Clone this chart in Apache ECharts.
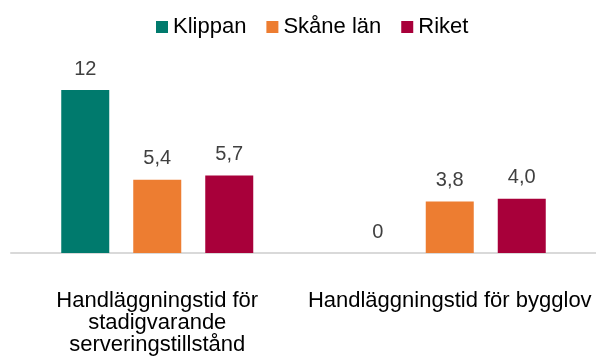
<!DOCTYPE html>
<html>
<head>
<meta charset="utf-8">
<script src="https://cdn.jsdelivr.net/npm/echarts@6/dist/echarts.min.js"></script>
<style>
  html, body { margin: 0; padding: 0; background: #ffffff; }
  #chart { width: 596px; height: 356px; }
</style>
</head>
<body>
<div id="chart"></div>
<script>
// Handläggningstid – Klippan jämfört med Skåne län och riket
const categories = [
  'Handläggningstid för\nstadigvarande\nserveringstillstånd',
  'Handläggningstid för bygglov'
];
const seriesNames = ['Klippan', 'Skåne län', 'Riket'];
const klippan = [12, 0];
const skane = [5.4, 3.8];
const riket = [5.7, 4.0];
const colors = ['#007A6D', '#ED7D31', '#A8003A'];

const fontFamily = '"Liberation Sans", Arial, sans-serif';

// Svensk decimalform: komma i stället för punkt, en decimal utom för Klippans heltal
function formatValue(v, name) {
  if (name === 'Klippan') return String(v);
  return v.toFixed(1).replace('.', ',');
}

const chart = echarts.init(document.getElementById('chart'), null, { renderer: 'canvas' });

const valueSets = [klippan, skane, riket];

chart.setOption({
  animation: false,
  color: colors,
  textStyle: { fontFamily: fontFamily },
  legend: {
    data: seriesNames,
    left: 156,
    top: 16,
    padding: 0,
    itemWidth: 12,
    itemHeight: 12,
    itemGap: 20,
    icon: 'rect',
    textStyle: { fontSize: 22, color: '#000000', fontFamily: fontFamily }
  },
  grid: {
    left: 11,
    right: -6,
    top: 90,
    bottom: 103,
    containLabel: false
  },
  xAxis: {
    type: 'category',
    data: categories,
    axisLine: { show: true, lineStyle: { color: '#d9d9d9', width: 2 } },
    axisTick: { show: false },
    axisLabel: {
      margin: 37,
      fontSize: 22,
      lineHeight: 22,
      color: '#000000',
      fontFamily: fontFamily,
      interval: 0,
      align: 'center'
    }
  },
  yAxis: {
    type: 'value',
    min: 0,
    max: 12,
    show: false,
    splitLine: { show: false }
  },
  series: seriesNames.map(function (name, i) {
    return {
      name: name,
      type: 'bar',
      data: valueSets[i],
      barWidth: 48,
      barGap: '50%',
      itemStyle: { color: colors[i] },
      label: {
        show: true,
        position: 'top',
        distance: 11,
        fontSize: 20,
        color: '#404040',
        fontFamily: fontFamily,
        formatter: function (p) { return formatValue(p.value, name); }
      }
    };
  })
});
</script>
</body>
</html>
